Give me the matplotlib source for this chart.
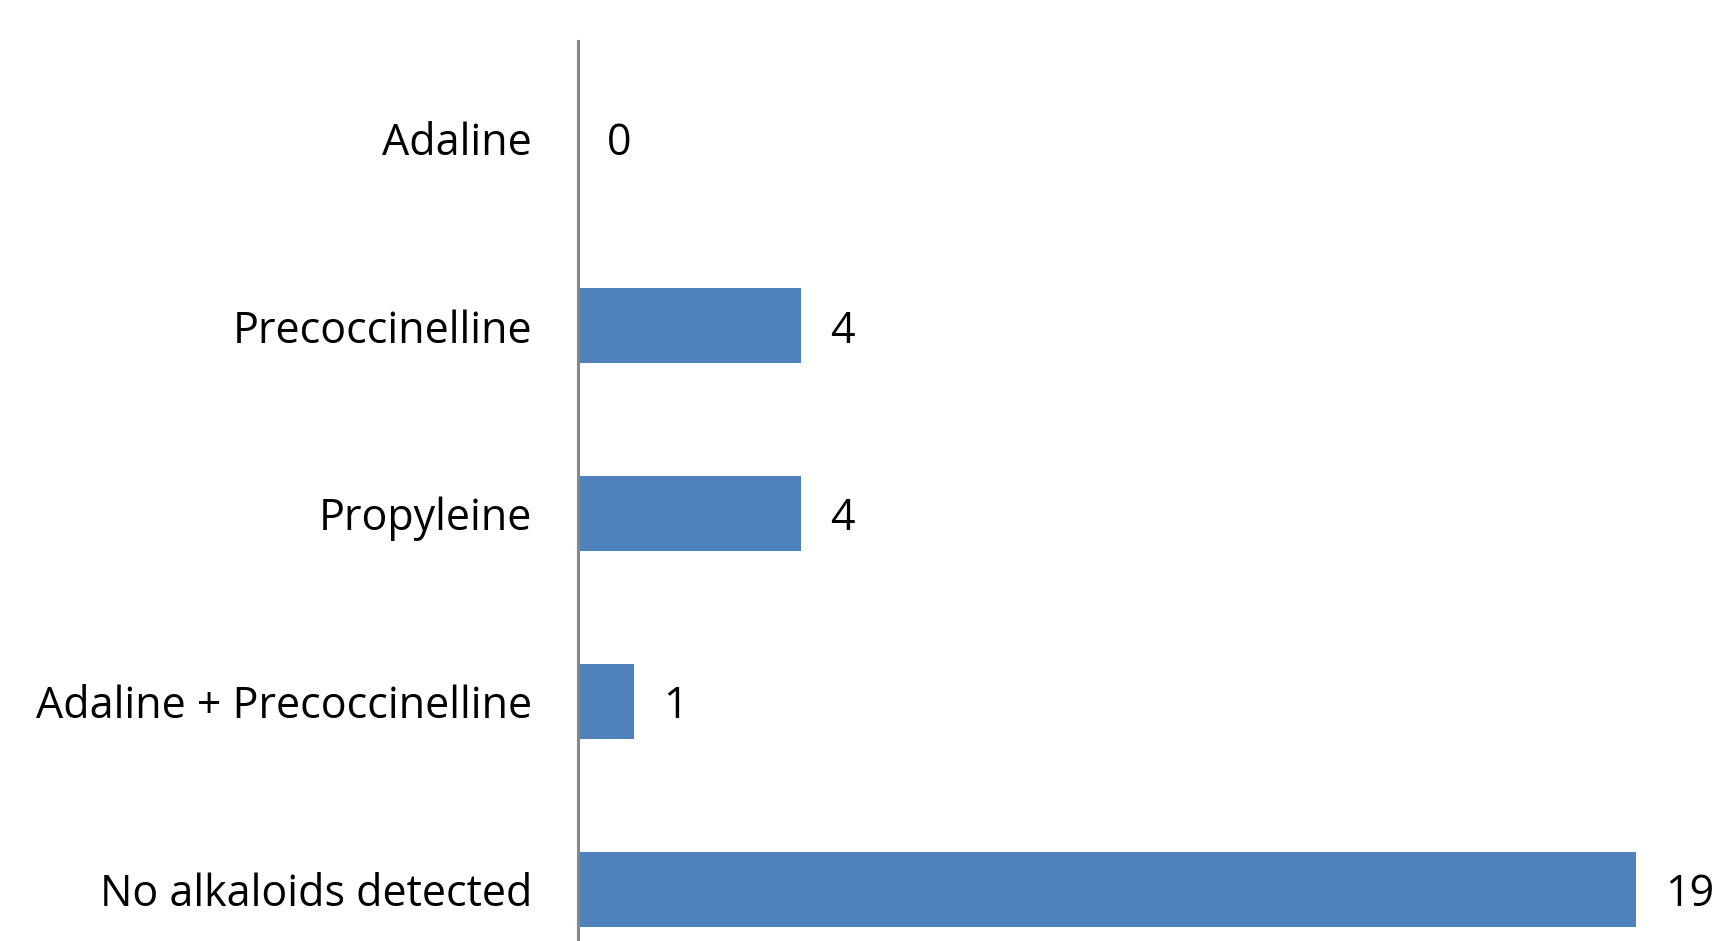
import matplotlib
matplotlib.use("Agg")
import matplotlib.pyplot as plt

# categories top to bottom and their counts
categories = ["Adaline", "Precoccinelline", "Propyleine",
              "Adaline + Precoccinelline", "No alkaloids detected"]
counts = [0, 4, 4, 1, 19]

plt.rcParams['font.family'] = ['Open Sans', 'DejaVu Sans']

W, H = 1715, 941
fig = plt.figure(figsize=(W / 100, H / 100), dpi=100)
# axes run past the bottom/right edge, like the cropped original
band = 187.8
top_pad = 0.517
left = 578 / W
top = 1 - 41 / H
ax_h = (len(categories) - 0.5 + top_pad) * band / H
ax = fig.add_axes([left, top - ax_h, 20 * 55.66 / W, ax_h])

ypos = list(range(len(categories)))
ax.barh(ypos, counts, height=0.4, color="#4F81BD")
ax.set_ylim(len(categories) - 0.5, -top_pad)
ax.set_xlim(0, 20)

ax.set_yticks(ypos)
ax.set_yticklabels(categories, fontsize=31)
ax.tick_params(axis="y", length=0, pad=33)
ax.set_xticks([])
for s in ["top", "right", "bottom"]:
    ax.spines[s].set_visible(False)
ax.spines["left"].set_color("#868686")
ax.spines["left"].set_linewidth(2.2)

for y, v in zip(ypos, counts):
    ax.annotate(str(v), (v, y), xytext=(21, -4), textcoords="offset points",
                va="center", ha="left", fontsize=31, annotation_clip=False)

fig.savefig("out.png", dpi=100)
